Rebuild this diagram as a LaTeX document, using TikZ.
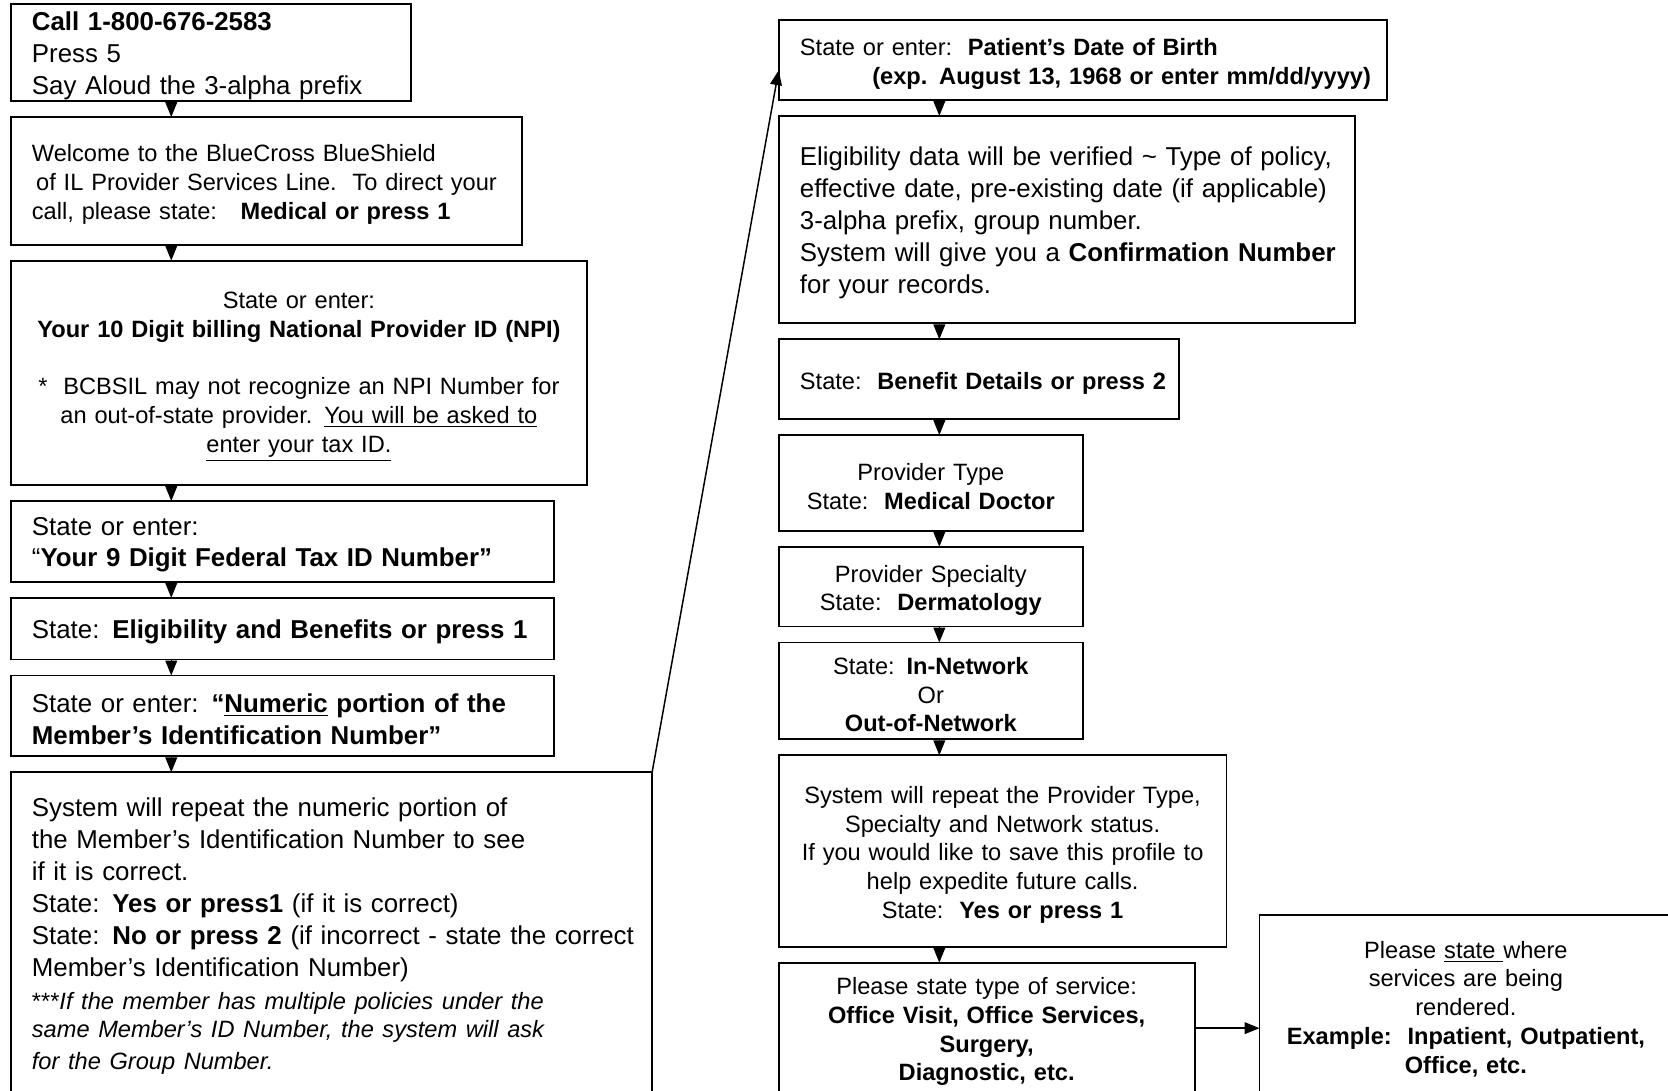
\documentclass[tikz,border=0pt]{standalone}
\usepackage{fontspec}
\setmainfont{Liberation Sans}
\usetikzlibrary{arrows.meta,positioning}
\newcommand\fsbig{\fontsize{12.15}{15}\selectfont}
\newcommand\fssmall{\fontsize{11.1}{13.5}\selectfont}
\tikzset{>={Triangle[width=5.5pt,length=7pt]}}
\tikzset{
  prompt/.style={draw,line width=0.85pt,inner xsep=0pt,inner ysep=0pt,outer sep=0pt,
    anchor=north west,align=left,execute at begin node={\leftskip=10pt\rule{0pt}{11.5pt}}},
  promptc/.style={draw,line width=0.85pt,inner xsep=0pt,inner ysep=0pt,outer sep=0pt,
    anchor=north west,align=center,execute at begin node={\rule{0pt}{11.5pt}}}
}

\begin{document}
\begin{tikzpicture}[x=0.5pt,y=-0.5pt,node distance=7.5pt,line width=0.7pt]
  \useasboundingbox (0,0) rectangle (1568,1025);
  \clip (0,0) rectangle (1568,1025);
  % left column
  \node[prompt,font=\fsbig,text width=188pt,minimum height=45.5pt] (call) at (10,4)
    {\textbf{Call 1-800-676-2583}\\Press 5\\Say Aloud the 3-alpha prefix};
  \node[prompt,font=\fssmall,text width=240.5pt,minimum height=60pt,
    below=of call.south west,anchor=north west] (welcome)
    {Welcome to the BlueCross BlueShield\\\hspace*{2pt}of IL Provider Services Line.\ \ To direct your\\call, please state:\ \ \ \textbf{Medical or press 1}};
  \node[promptc,font=\fssmall,text width=271pt,minimum height=105.5pt,
    below=of welcome.south west,anchor=north west] (npi)
    {State or enter:\\\textbf{Your 10 Digit billing National Provider ID (NPI)}\\[13.5pt]
     *\ \ BCBSIL may not recognize an NPI Number for\\an out-of-state provider. \underline{You will be asked to}\\\underline{enter your tax ID.}};
  \node[prompt,font=\fsbig,text width=255.5pt,minimum height=38pt,
    below=of npi.south west,anchor=north west] (taxid)
    {State or enter:\\“\textbf{Your 9 Digit Federal Tax ID Number”}};
  \node[prompt,font=\fsbig,text width=255.5pt,minimum height=29pt,
    below=of taxid.south west,anchor=north west] (elig)
    {State: \textbf{Eligibility and Benefits or press 1}};
  \node[prompt,font=\fsbig,text width=255.5pt,minimum height=38pt,
    below=of elig.south west,anchor=north west] (memberid)
    {State or enter: \textbf{“\underline{Numeric} portion of the}\\\textbf{Member’s Identification Number”}};
  \node[prompt,font=\fsbig,text width=301.5pt,minimum height=151.5pt,
    below=of memberid.south west,anchor=north west] (readback)
    {System will repeat the numeric portion of\\the Member’s Identification Number to see\\if it is correct.\\
     State: \textbf{Yes or press1} (if it is correct)\\
     State: \textbf{No or press 2} (if incorrect - state the correct\\
     Member’s Identification Number)\par\vspace{2pt}
     \fssmall ***\textit{If the member has multiple policies under the}\\
     \textit{same Member’s ID Number, the system will ask}\\\textit{for the Group Number.}};
  % right column
  \node[prompt,font=\fssmall,text width=286pt,minimum height=37.5pt] (dob) at (732,19)
    {State or enter:\ \ \textbf{Patient’s Date of Birth}\\\hspace*{34pt}\textbf{(exp. August 13, 1968 or enter mm/dd/yyyy)}};
  \node[prompt,font=\fsbig,text width=271pt,minimum height=97.5pt,
    below=of dob.south west,anchor=north west] (verify)
    {Eligibility data will be verified \textasciitilde{} Type of policy,\\effective date, pre-existing date (if applicable)\\3-alpha prefix, group number.\\
     System will give you a \textbf{Confirmation Number}\\for your records.};
  \node[prompt,font=\fssmall,text width=188pt,minimum height=37.5pt,
    below=of verify.south west,anchor=north west] (benefit)
    {State:\ \ \textbf{Benefit Details or press 2}};
  \node[promptc,font=\fssmall,text width=143pt,minimum height=45pt,
    below=of benefit.south west,anchor=north west] (provtype)
    {Provider Type\\State:\ \ \textbf{Medical Doctor}};
  \node[promptc,font=\fssmall,text width=143pt,minimum height=37.5pt,
    below=of provtype.south west,anchor=north west] (specialty)
    {Provider Specialty\\State:\ \ \textbf{Dermatology}};
  \node[promptc,font=\fssmall,text width=143pt,minimum height=45.5pt,
    below=of specialty.south west,anchor=north west] (network)
    {State: \textbf{In-Network}\\Or\\\textbf{Out-of-Network}};
  \node[promptc,font=\fssmall,text width=210.5pt,minimum height=90pt,
    below=of network.south west,anchor=north west] (profile)
    {System will repeat the Provider Type,\\Specialty and Network status.\\If you would like to save this profile to\\help expedite future calls.\\State:\ \ \textbf{Yes or press 1}};
  \node[promptc,font=\fssmall,text width=195.5pt,minimum height=61.5pt,
    below=of profile.south west,anchor=north west] (service)
    {Please state type of service:\\\textbf{Office Visit, Office Services,}\\\textbf{Surgery,}\\\textbf{Diagnostic, etc.}};
  \node[promptc,font=\fssmall,text width=194pt,minimum height=85pt] (place) at (1184,860)
    {Please \underline{state\ }where\\services are being\\rendered.\\\textbf{Example:\ \ Inpatient, Outpatient,}\\\textbf{Office, etc.}};
  % arrows
  \path[->]
    ([xshift=75.5pt]call.south west) edge ([xshift=75.5pt]welcome.north west)
    ([xshift=75.5pt]welcome.south west) edge ([xshift=75.5pt]npi.north west)
    ([xshift=75.5pt]npi.south west) edge ([xshift=75.5pt]taxid.north west)
    ([xshift=75.5pt]taxid.south west) edge ([xshift=75.5pt]elig.north west)
    ([xshift=75.5pt]elig.south west) edge ([xshift=75.5pt]memberid.north west)
    ([xshift=75.5pt]memberid.south west) edge ([xshift=75.5pt]readback.north west)
    ([xshift=75.5pt]dob.south west) edge ([xshift=75.5pt]verify.north west)
    ([xshift=75.5pt]verify.south west) edge ([xshift=75.5pt]benefit.north west)
    ([xshift=75.5pt]benefit.south west) edge ([xshift=75.5pt]provtype.north west)
    ([xshift=75.5pt]provtype.south west) edge ([xshift=75.5pt]specialty.north west)
    ([xshift=75.5pt]specialty.south west) edge ([xshift=75.5pt]network.north west)
    ([xshift=75.5pt]network.south west) edge ([xshift=75.5pt]profile.north west)
    ([xshift=75.5pt]profile.south west) edge ([xshift=75.5pt]service.north west)
    (readback.north east) edge ([yshift=-23.5pt]dob.north west)
    (service.east) edge (service.east -| place.west)
  ;
\end{tikzpicture}
\end{document}
